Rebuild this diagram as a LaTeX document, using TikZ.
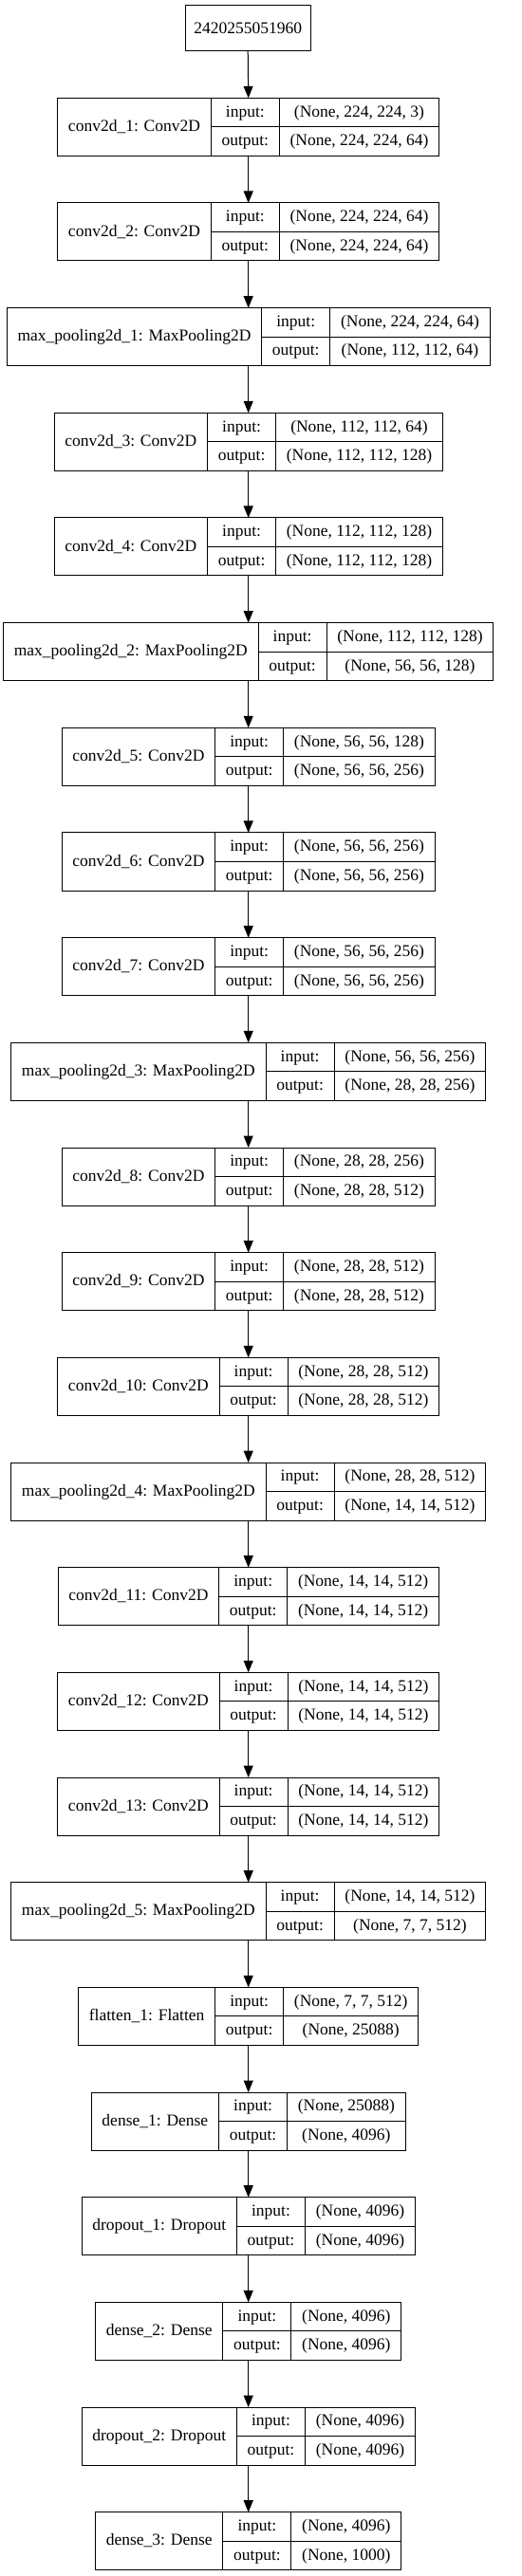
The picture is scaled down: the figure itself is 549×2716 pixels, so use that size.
\documentclass[tikz,border=0pt]{standalone}
\usepackage{fontspec}
\setmainfont{Liberation Serif}
\usetikzlibrary{arrows.meta}
\newlength\lwa \newlength\lwb \newlength\lwc \newlength\lwt
\newcommand\lfont{\fontsize{17.5}{21}\selectfont}
\tikzset{
  layerbox/.style={draw, line width=1pt, minimum height=61pt, inner sep=0pt, outer sep=0pt},
  cellline/.style={line width=1pt},
  txt/.style={anchor=base, inner sep=0pt, font=\lfont},
  arr/.style={line width=1pt, -{Triangle[length=12.5pt,width=10pt]}},
}
\newcommand\layer[5]{%
  \pgfinterruptpicture
  \settowidth\lwa{\lfont #3}\global\lwa=\lwa
  \settowidth\lwb{\lfont output:}\global\lwb=\lwb
  \settowidth\lwc{\lfont #4}\settowidth\lwt{\lfont #5}%
  \ifdim\lwt>\lwc \lwc=\lwt\fi \global\lwc=\lwc
  \endpgfinterruptpicture
  \addtolength\lwa{22.5pt}\addtolength\lwb{22.5pt}\addtolength\lwc{22.5pt}%
  \pgfmathsetmacro\W{\lwa+\lwb+\lwc}%
  \pgfmathsetmacro\Yc{-(133.8+110.67*#2)}%
  \pgfmathsetmacro\XL{261.7-\W/2}%
  \pgfmathsetmacro\XA{\XL+\lwa}%
  \pgfmathsetmacro\XB{\XA+\lwb}%
  \pgfmathsetmacro\XR{261.7+\W/2}%
  \node[layerbox, minimum width=\W pt] (#1) at (261.7,\Yc) {};
  \draw[cellline] (\XA,\Yc+30.5) -- (\XA,\Yc-30.5);
  \draw[cellline] (\XB,\Yc+30.5) -- (\XB,\Yc-30.5);
  \draw[cellline] (\XA,\Yc) -- (\XR,\Yc);
  \node[txt] (#1l) at ({(\XL+\XA)/2},\Yc-4.6) {#3};
  \node[txt] (#1i) at ({(\XA+\XB)/2},\Yc+15.25-4.6) {input:};
  \node[txt] (#1o) at ({(\XA+\XB)/2},\Yc-15.25-4.6) {output:};
  \node[txt] (#1a) at ({(\XB+\XR)/2},\Yc+15.25-4.6) {#4};
  \node[txt] (#1b) at ({(\XB+\XR)/2},\Yc-15.25-4.6) {#5};
}
\begin{document}
\begin{tikzpicture}[x=1pt,y=1pt]
\useasboundingbox[fill=white] (0,0) rectangle (549,-2716);
\node[draw, line width=1pt, minimum width=132.3pt, minimum height=47.6pt, inner sep=0pt, outer sep=0pt, font=\lfont] (in) at (261.2,-29.5) {2420255051960};
\layer{L0}{0}{conv2d\_1: Conv2D}{(None, 224, 224, 3)}{(None, 224, 224, 64)}
\layer{L1}{1}{conv2d\_2: Conv2D}{(None, 224, 224, 64)}{(None, 224, 224, 64)}
\layer{L2}{2}{max\_pooling2d\_1: MaxPooling2D}{(None, 224, 224, 64)}{(None, 112, 112, 64)}
\layer{L3}{3}{conv2d\_3: Conv2D}{(None, 112, 112, 64)}{(None, 112, 112, 128)}
\layer{L4}{4}{conv2d\_4: Conv2D}{(None, 112, 112, 128)}{(None, 112, 112, 128)}
\layer{L5}{5}{max\_pooling2d\_2: MaxPooling2D}{(None, 112, 112, 128)}{(None, 56, 56, 128)}
\layer{L6}{6}{conv2d\_5: Conv2D}{(None, 56, 56, 128)}{(None, 56, 56, 256)}
\layer{L7}{7}{conv2d\_6: Conv2D}{(None, 56, 56, 256)}{(None, 56, 56, 256)}
\layer{L8}{8}{conv2d\_7: Conv2D}{(None, 56, 56, 256)}{(None, 56, 56, 256)}
\layer{L9}{9}{max\_pooling2d\_3: MaxPooling2D}{(None, 56, 56, 256)}{(None, 28, 28, 256)}
\layer{L10}{10}{conv2d\_8: Conv2D}{(None, 28, 28, 256)}{(None, 28, 28, 512)}
\layer{L11}{11}{conv2d\_9: Conv2D}{(None, 28, 28, 512)}{(None, 28, 28, 512)}
\layer{L12}{12}{conv2d\_10: Conv2D}{(None, 28, 28, 512)}{(None, 28, 28, 512)}
\layer{L13}{13}{max\_pooling2d\_4: MaxPooling2D}{(None, 28, 28, 512)}{(None, 14, 14, 512)}
\layer{L14}{14}{conv2d\_11: Conv2D}{(None, 14, 14, 512)}{(None, 14, 14, 512)}
\layer{L15}{15}{conv2d\_12: Conv2D}{(None, 14, 14, 512)}{(None, 14, 14, 512)}
\layer{L16}{16}{conv2d\_13: Conv2D}{(None, 14, 14, 512)}{(None, 14, 14, 512)}
\layer{L17}{17}{max\_pooling2d\_5: MaxPooling2D}{(None, 14, 14, 512)}{(None, 7, 7, 512)}
\layer{L18}{18}{flatten\_1: Flatten}{(None, 7, 7, 512)}{(None, 25088)}
\layer{L19}{19}{dense\_1: Dense}{(None, 25088)}{(None, 4096)}
\layer{L20}{20}{dropout\_1: Dropout}{(None, 4096)}{(None, 4096)}
\layer{L21}{21}{dense\_2: Dense}{(None, 4096)}{(None, 4096)}
\layer{L22}{22}{dropout\_2: Dropout}{(None, 4096)}{(None, 4096)}
\layer{L23}{23}{dense\_3: Dense}{(None, 4096)}{(None, 1000)}
\draw[arr] (in.south) -- (L0.north);
\foreach \a [count=\b from 1] in {0,...,22} {
  \draw[arr] (L\a.south) -- (L\b.north);
}
\end{tikzpicture}
\end{document}
